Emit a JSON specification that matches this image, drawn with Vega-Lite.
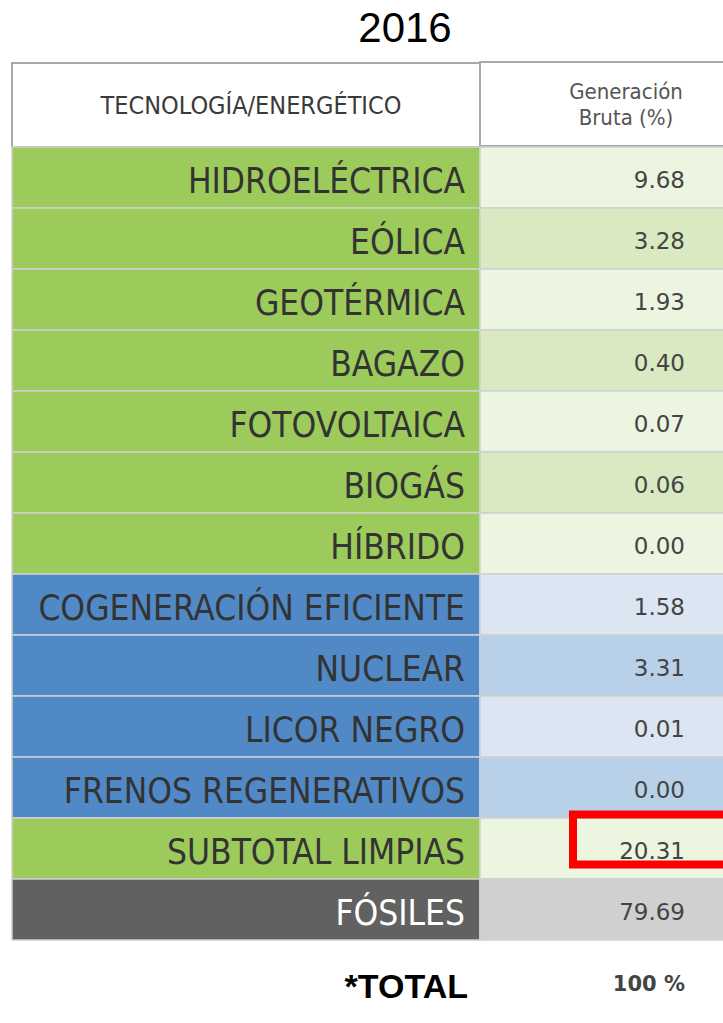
{
  "$schema": "https://vega.github.io/schema/vega-lite/v6.json",
  "width": 723,
  "height": 1023,
  "autosize": "none",
  "padding": 0,
  "background": "white",
  "config": {"view": {"stroke": null}},
  "datasets": {
    "tabla": [
      {"fila": "HIDROELÉCTRICA", "valor": 9.68, "grupo": "Renovable", "tono": "verde claro"},
      {"fila": "EÓLICA", "valor": 3.28, "grupo": "Renovable", "tono": "verde medio"},
      {"fila": "GEOTÉRMICA", "valor": 1.93, "grupo": "Renovable", "tono": "verde claro"},
      {"fila": "BAGAZO", "valor": 0.40, "grupo": "Renovable", "tono": "verde medio"},
      {"fila": "FOTOVOLTAICA", "valor": 0.07, "grupo": "Renovable", "tono": "verde claro"},
      {"fila": "BIOGÁS", "valor": 0.06, "grupo": "Renovable", "tono": "verde medio"},
      {"fila": "HÍBRIDO", "valor": 0.00, "grupo": "Renovable", "tono": "verde claro"},
      {"fila": "COGENERACIÓN EFICIENTE", "valor": 1.58, "grupo": "Otra limpia", "tono": "azul claro"},
      {"fila": "NUCLEAR", "valor": 3.31, "grupo": "Otra limpia", "tono": "azul medio"},
      {"fila": "LICOR NEGRO", "valor": 0.01, "grupo": "Otra limpia", "tono": "azul claro"},
      {"fila": "FRENOS REGENERATIVOS", "valor": 0.00, "grupo": "Otra limpia", "tono": "azul medio"},
      {"fila": "SUBTOTAL LIMPIAS", "valor": 20.31, "grupo": "Subtotal", "tono": "verde claro"},
      {"fila": "FÓSILES", "valor": 79.69, "grupo": "Fósil", "tono": "gris claro"}
    ],
    "titulo": [{"anio": "2016"}],
    "encabezado": [{"izq": "TECNOLOGÍA/ENERGÉTICO", "der": "Generación\nBruta (%)"}],
    "total": [{"etiqueta": "*TOTAL", "valor": "100 %"}]
  },
  "layer": [
    {
      "data": {"name": "titulo"},
      "mark": {"type": "text", "font": "Liberation Sans", "fontSize": 42, "color": "#000", "align": "center", "baseline": "middle"},
      "encoding": {
        "x": {"datum": 405, "type": "quantitative", "scale": {"domain": [0, 723], "nice": false, "zero": false}, "axis": null},
        "y": {"field": "anio", "type": "nominal", "scale": {"range": [0, 58]}, "axis": null},
        "text": {"field": "anio"}
      }
    },
    {
      "data": {"name": "encabezado"},
      "layer": [
        {
          "mark": {"type": "rect", "fill": "white", "stroke": "#a8a8a8", "strokeWidth": 2},
          "encoding": {
            "x": {"datum": 12, "type": "quantitative"},
            "x2": {"datum": 480},
            "y": {"field": "izq", "type": "nominal", "scale": {"range": [63, 147]}, "axis": null}
          }
        },
        {
          "mark": {"type": "rect", "fill": "white", "stroke": "#a8a8a8", "strokeWidth": 2, "yOffset": -1},
          "encoding": {
            "x": {"datum": 480, "type": "quantitative"},
            "x2": {"datum": 730},
            "y": {"field": "izq", "type": "nominal", "axis": null}
          }
        },
        {
          "mark": {"type": "text", "font": "Liberation Sans Narrow, DejaVu Sans Condensed, sans-serif", "fontSize": 25, "color": "#3a3a3a", "align": "center", "baseline": "middle", "dy": 1},
          "encoding": {
            "x": {"datum": 251, "type": "quantitative"},
            "y": {"field": "izq", "type": "nominal", "axis": null},
            "text": {"field": "izq"}
          }
        },
        {
          "mark": {"type": "text", "font": "Liberation Sans Narrow, DejaVu Sans Condensed, sans-serif", "fontSize": 22, "color": "#555", "align": "center", "baseline": "middle", "lineBreak": "\n", "lineHeight": 26, "dy": -13},
          "encoding": {
            "x": {"datum": 626, "type": "quantitative"},
            "y": {"field": "izq", "type": "nominal", "axis": null},
            "text": {"field": "der"}
          }
        }
      ]
    },
    {
      "data": {"name": "tabla"},
      "layer": [
        {
          "mark": {"type": "rect", "stroke": "#cfcfcf", "strokeWidth": 1.5},
          "encoding": {
            "x": {"datum": 12, "type": "quantitative"},
            "x2": {"datum": 480},
            "y": {"field": "fila", "type": "nominal", "sort": null, "scale": {"range": [147, 940], "paddingInner": 0, "paddingOuter": 0}, "axis": null},
            "color": {
              "field": "grupo", "type": "nominal", "legend": null,
              "scale": {
                "domain": ["Renovable", "Otra limpia", "Subtotal", "Fósil", "verde claro", "verde medio", "azul claro", "azul medio", "gris claro"],
                "range": ["#9dcb5b", "#5189c6", "#9dcb5b", "#616161", "#ecf5e0", "#d9e9c1", "#dce6f2", "#b9d0e9", "#d0d0d0"]
              }
            }
          }
        },
        {
          "mark": {"type": "rect", "stroke": "#cfcfcf", "strokeWidth": 1.5},
          "encoding": {
            "x": {"datum": 480, "type": "quantitative"},
            "x2": {"datum": 730},
            "y": {"field": "fila", "type": "nominal", "sort": null, "axis": null},
            "color": {"field": "tono", "type": "nominal", "legend": null}
          }
        },
        {
          "mark": {"type": "text", "font": "Liberation Sans Narrow, DejaVu Sans Condensed, sans-serif", "fontSize": 35, "align": "right", "baseline": "middle", "dy": 4},
          "encoding": {
            "x": {"datum": 465, "type": "quantitative"},
            "y": {"field": "fila", "type": "nominal", "sort": null, "axis": null},
            "text": {"field": "fila"},
            "color": {"condition": {"test": "datum.grupo === 'Fósil'", "value": "#ffffff"}, "value": "#333333"}
          }
        },
        {
          "mark": {"type": "text", "font": "DejaVu Sans", "fontSize": 23, "color": "#444444", "align": "right", "baseline": "middle", "dy": 3},
          "encoding": {
            "x": {"datum": 685, "type": "quantitative"},
            "y": {"field": "fila", "type": "nominal", "sort": null, "axis": null},
            "text": {"field": "valor", "type": "quantitative", "format": ".2f"}
          }
        },
        {
          "transform": [{"filter": "datum.fila === 'SUBTOTAL LIMPIAS'"}],
          "mark": {"type": "rect", "filled": false, "stroke": "#ff0000", "strokeWidth": 8, "height": 50, "yOffset": -9},
          "encoding": {
            "x": {"datum": 573, "type": "quantitative"},
            "x2": {"datum": 740},
            "y": {"field": "fila", "type": "nominal", "sort": null, "axis": null}
          }
        }
      ]
    },
    {
      "data": {"name": "total"},
      "layer": [
        {
          "mark": {"type": "text", "font": "Liberation Sans", "fontWeight": "bold", "fontSize": 34, "color": "#000", "align": "right", "baseline": "middle"},
          "encoding": {
            "x": {"datum": 468, "type": "quantitative"},
            "y": {"field": "etiqueta", "type": "nominal", "scale": {"range": [955, 1021]}, "axis": null},
            "text": {"field": "etiqueta"}
          }
        },
        {
          "mark": {"type": "text", "font": "DejaVu Sans", "fontWeight": "bold", "fontSize": 21, "color": "#444444", "align": "right", "baseline": "middle", "dy": -3},
          "encoding": {
            "x": {"datum": 685, "type": "quantitative"},
            "y": {"field": "etiqueta", "type": "nominal", "axis": null},
            "text": {"field": "valor"}
          }
        }
      ]
    }
  ],
  "resolve": {"scale": {"y": "independent"}}
}
